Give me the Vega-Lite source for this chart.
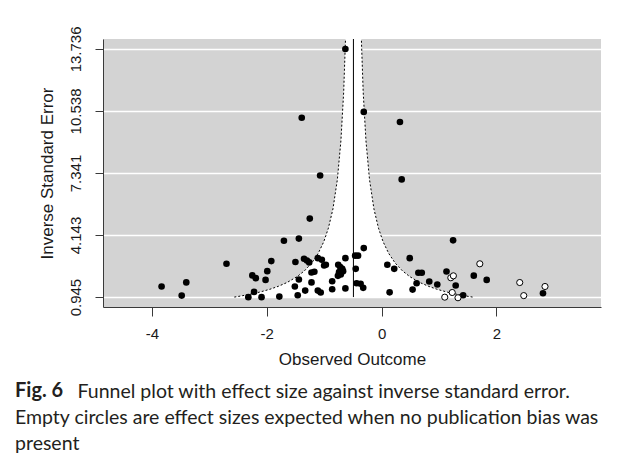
{
  "$schema": "https://vega.github.io/schema/vega-lite/v6.json",
  "width": 498,
  "height": 268,
  "autosize": {"type": "none"},
  "padding": {"left": 103, "top": 39, "right": 24, "bottom": 156},
  "background": "white",
  "config": {
    "view": {"fill": "#d3d3d3", "stroke": null},
    "font": "Liberation Sans",
    "axis": {"domainColor": "#3a3a3a", "tickColor": "#3a3a3a", "labelColor": "#1a1a1a", "titleColor": "#1a1a1a", "labelFont": "Liberation Sans", "titleFont": "Liberation Sans", "titleFontWeight": "normal"}
  },
  "title": {
    "text": "Fig. 6",
    "subtitle": ["\u200b\u2003\u2003\u2003\u2004\u2002\u2009Funnel plot with effect size against inverse standard error.", "Empty circles are effect sizes expected when no publication bias was", "present"],
    "orient": "bottom",
    "anchor": "start",
    "frame": "group",
    "dx": -88,
    "offset": 14,
    "font": "Lato",
    "fontSize": 20,
    "fontWeight": "bold",
    "color": "#231f20",
    "subtitleFont": "Lato",
    "subtitleFontSize": 19.5,
    "subtitleColor": "#231f20",
    "subtitleLineHeight": 26,
    "subtitlePadding": -18
  },
  "datasets": {
    "studies": [
      {"effect": -0.63, "inv_se": 13.73, "type": "observed"},
      {"effect": -1.39, "inv_se": 10.19, "type": "observed"},
      {"effect": -0.31, "inv_se": 10.49, "type": "observed"},
      {"effect": 0.32, "inv_se": 9.97, "type": "observed"},
      {"effect": -1.07, "inv_se": 7.21, "type": "observed"},
      {"effect": 0.35, "inv_se": 7.01, "type": "observed"},
      {"effect": -1.25, "inv_se": 4.99, "type": "observed"},
      {"effect": -1.7, "inv_se": 3.85, "type": "observed"},
      {"effect": -1.44, "inv_se": 3.96, "type": "observed"},
      {"effect": 1.245, "inv_se": 3.87, "type": "observed"},
      {"effect": -0.31, "inv_se": 3.47, "type": "observed"},
      {"effect": -3.83, "inv_se": 1.49, "type": "observed"},
      {"effect": -3.48, "inv_se": 1.02, "type": "observed"},
      {"effect": -3.4, "inv_se": 1.7, "type": "observed"},
      {"effect": -2.7, "inv_se": 2.66, "type": "observed"},
      {"effect": -2.25, "inv_se": 2.06, "type": "observed"},
      {"effect": -2.19, "inv_se": 1.92, "type": "observed"},
      {"effect": -1.99, "inv_se": 2.28, "type": "observed"},
      {"effect": -2.02, "inv_se": 1.83, "type": "observed"},
      {"effect": -1.92, "inv_se": 2.8, "type": "observed"},
      {"effect": -2.22, "inv_se": 1.21, "type": "observed"},
      {"effect": -2.32, "inv_se": 0.94, "type": "observed"},
      {"effect": -2.09, "inv_se": 0.94, "type": "observed"},
      {"effect": -1.78, "inv_se": 0.97, "type": "observed"},
      {"effect": -1.5, "inv_se": 2.75, "type": "observed"},
      {"effect": -1.35, "inv_se": 2.92, "type": "observed"},
      {"effect": -1.3, "inv_se": 2.83, "type": "observed"},
      {"effect": -1.26, "inv_se": 2.73, "type": "observed"},
      {"effect": -1.44, "inv_se": 1.85, "type": "observed"},
      {"effect": -1.51, "inv_se": 1.49, "type": "observed"},
      {"effect": -1.46, "inv_se": 1.04, "type": "observed"},
      {"effect": -1.33, "inv_se": 1.28, "type": "observed"},
      {"effect": -1.22, "inv_se": 1.7, "type": "observed"},
      {"effect": -1.22, "inv_se": 2.21, "type": "observed"},
      {"effect": -1.17, "inv_se": 2.25, "type": "observed"},
      {"effect": -1.11, "inv_se": 2.95, "type": "observed"},
      {"effect": -1.04, "inv_se": 2.87, "type": "observed"},
      {"effect": -1.0, "inv_se": 2.57, "type": "observed"},
      {"effect": -0.97, "inv_se": 2.61, "type": "observed"},
      {"effect": -1.11, "inv_se": 1.28, "type": "observed"},
      {"effect": -1.06, "inv_se": 1.18, "type": "observed"},
      {"effect": -0.86, "inv_se": 1.76, "type": "observed"},
      {"effect": -0.86, "inv_se": 1.35, "type": "observed"},
      {"effect": -0.755, "inv_se": 2.61, "type": "observed"},
      {"effect": -0.72, "inv_se": 2.49, "type": "observed"},
      {"effect": -0.685, "inv_se": 2.4, "type": "observed"},
      {"effect": -0.74, "inv_se": 2.23, "type": "observed"},
      {"effect": -0.71, "inv_se": 2.11, "type": "observed"},
      {"effect": -0.76, "inv_se": 2.04, "type": "observed"},
      {"effect": -0.67, "inv_se": 2.28, "type": "observed"},
      {"effect": -0.63, "inv_se": 2.95, "type": "observed"},
      {"effect": -0.63, "inv_se": 1.39, "type": "observed"},
      {"effect": -0.46, "inv_se": 3.08, "type": "observed"},
      {"effect": -0.41, "inv_se": 3.08, "type": "observed"},
      {"effect": -0.45, "inv_se": 2.4, "type": "observed"},
      {"effect": -0.435, "inv_se": 1.66, "type": "observed"},
      {"effect": -0.365, "inv_se": 1.63, "type": "observed"},
      {"effect": -0.32, "inv_se": 1.42, "type": "observed"},
      {"effect": 0.1, "inv_se": 2.61, "type": "observed"},
      {"effect": 0.22, "inv_se": 2.4, "type": "observed"},
      {"effect": 0.14, "inv_se": 1.19, "type": "observed"},
      {"effect": 0.49, "inv_se": 2.95, "type": "observed"},
      {"effect": 0.64, "inv_se": 2.2, "type": "observed"},
      {"effect": 0.7, "inv_se": 2.2, "type": "observed"},
      {"effect": 0.54, "inv_se": 1.33, "type": "observed"},
      {"effect": 0.61, "inv_se": 1.66, "type": "observed"},
      {"effect": 0.83, "inv_se": 1.75, "type": "observed"},
      {"effect": 0.97, "inv_se": 1.59, "type": "observed"},
      {"effect": 1.13, "inv_se": 2.26, "type": "observed"},
      {"effect": 1.29, "inv_se": 1.54, "type": "observed"},
      {"effect": 1.42, "inv_se": 1.04, "type": "observed"},
      {"effect": 1.605, "inv_se": 2.05, "type": "observed"},
      {"effect": 1.83, "inv_se": 1.83, "type": "observed"},
      {"effect": 2.81, "inv_se": 1.14, "type": "observed"},
      {"effect": 1.205, "inv_se": 1.94, "type": "imputed"},
      {"effect": 1.25, "inv_se": 2.04, "type": "imputed"},
      {"effect": 1.23, "inv_se": 1.18, "type": "imputed"},
      {"effect": 1.1, "inv_se": 0.94, "type": "imputed"},
      {"effect": 1.33, "inv_se": 0.91, "type": "imputed"},
      {"effect": 1.71, "inv_se": 2.66, "type": "imputed"},
      {"effect": 2.405, "inv_se": 1.695, "type": "imputed"},
      {"effect": 2.475, "inv_se": 1.02, "type": "imputed"},
      {"effect": 2.845, "inv_se": 1.49, "type": "imputed"}
    ],
    "funnel": [
      {"inv_se": 0.945, "lo": -2.564, "hi": 1.584},
      {"inv_se": 1.0, "lo": -2.45, "hi": 1.47},
      {"inv_se": 1.1, "lo": -2.272, "hi": 1.292},
      {"inv_se": 1.2, "lo": -2.123, "hi": 1.143},
      {"inv_se": 1.35, "lo": -1.942, "hi": 0.962},
      {"inv_se": 1.5, "lo": -1.797, "hi": 0.817},
      {"inv_se": 1.7, "lo": -1.643, "hi": 0.663},
      {"inv_se": 2.0, "lo": -1.47, "hi": 0.49},
      {"inv_se": 2.3, "lo": -1.342, "hi": 0.362},
      {"inv_se": 2.7, "lo": -1.216, "hi": 0.236},
      {"inv_se": 3.2, "lo": -1.103, "hi": 0.123},
      {"inv_se": 3.8, "lo": -1.006, "hi": 0.026},
      {"inv_se": 4.5, "lo": -0.926, "hi": -0.054},
      {"inv_se": 5.5, "lo": -0.846, "hi": -0.134},
      {"inv_se": 7.0, "lo": -0.77, "hi": -0.21},
      {"inv_se": 9.0, "lo": -0.708, "hi": -0.272},
      {"inv_se": 11.5, "lo": -0.66, "hi": -0.32},
      {"inv_se": 14.248, "lo": -0.628, "hi": -0.352}
    ],
    "center": [
      {"effect": -0.49, "inv_se": 0.945, "inv_se_top": 14.248}
    ]
  },
  "layer": [
    {
      "data": {"name": "funnel"},
      "mark": {"type": "area", "orient": "horizontal", "color": "white", "opacity": 1},
      "encoding": {
        "y": {"field": "inv_se", "type": "quantitative", "scale": {"domain": [0.433, 14.248], "nice": false, "zero": false},
          "axis": {"title": "Inverse Standard Error", "values": [0.945, 4.143, 7.341, 10.538, 13.736], "format": ".3f", "grid": true, "gridColor": "white", "gridWidth": 1.5, "labelAngle": 270, "labelAlign": "center", "labelBaseline": "bottom", "labelFontSize": 15, "labelPadding": 12, "tickSize": 8, "titleFontSize": 17, "titlePadding": 12}},
        "x": {"field": "lo", "type": "quantitative", "scale": {"domain": [-4.85, 3.82], "nice": false, "zero": false},
          "axis": {"title": "Observed Outcome", "values": [-4, -2, 0, 2], "labelExpr": "datum.value < 0 ? '-' + abs(datum.value) : '' + datum.value", "grid": false, "labelFontSize": 15, "labelPadding": 10, "tickSize": 9, "titleFontSize": 17, "titlePadding": 10}},
        "x2": {"field": "hi"}
      }
    },
    {
      "data": {"name": "funnel"},
      "mark": {"type": "line", "color": "black", "strokeWidth": 1, "strokeDash": [2, 2]},
      "encoding": {
        "x": {"field": "lo", "type": "quantitative"},
        "y": {"field": "inv_se", "type": "quantitative"},
        "order": {"field": "inv_se"}
      }
    },
    {
      "data": {"name": "funnel"},
      "mark": {"type": "line", "color": "black", "strokeWidth": 1, "strokeDash": [2, 2]},
      "encoding": {
        "x": {"field": "hi", "type": "quantitative"},
        "y": {"field": "inv_se", "type": "quantitative"},
        "order": {"field": "inv_se"}
      }
    },
    {
      "data": {"name": "center"},
      "mark": {"type": "rule", "color": "black", "strokeWidth": 1},
      "encoding": {
        "x": {"field": "effect", "type": "quantitative"},
        "y": {"field": "inv_se", "type": "quantitative"},
        "y2": {"field": "inv_se_top"}
      }
    },
    {
      "data": {"name": "studies"},
      "transform": [{"filter": "datum.type === 'observed'"}],
      "mark": {"type": "circle", "color": "black", "opacity": 1, "size": 44},
      "encoding": {
        "x": {"field": "effect", "type": "quantitative"},
        "y": {"field": "inv_se", "type": "quantitative"}
      }
    },
    {
      "data": {"name": "studies"},
      "transform": [{"filter": "datum.type === 'imputed'"}],
      "mark": {"type": "point", "shape": "circle", "filled": true, "fill": "white", "stroke": "black", "strokeWidth": 1, "opacity": 1, "size": 38},
      "encoding": {
        "x": {"field": "effect", "type": "quantitative"},
        "y": {"field": "inv_se", "type": "quantitative"}
      }
    }
  ]
}
